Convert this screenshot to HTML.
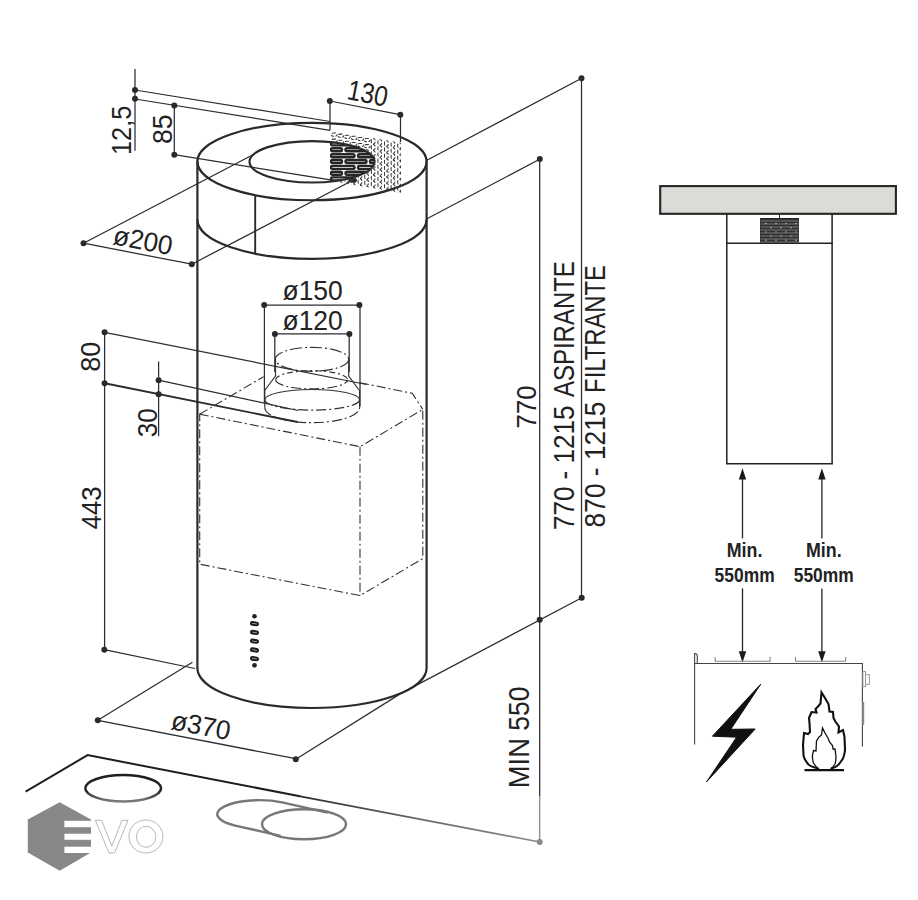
<!DOCTYPE html>
<html><head><meta charset="utf-8">
<style>
html,body{margin:0;padding:0;background:#fff;width:918px;height:900px;overflow:hidden}
svg{display:block}
text{font-family:"Liberation Sans",sans-serif;fill:#222}
</style></head>
<body>
<svg width="918" height="900" viewBox="0 0 918 900">
<g id="thin" stroke="#2b2d33" stroke-width="1.25" fill="none">
  <!-- 12,5 dim -->
  <line x1="135" y1="69" x2="135" y2="150.7"/>
  <line x1="135" y1="90" x2="330" y2="121.5"/>
  <line x1="135" y1="99" x2="330" y2="130.3"/>
  <!-- 85 dim -->
  <line x1="174.3" y1="105.5" x2="174.3" y2="154.7"/>
  <line x1="174.3" y1="154.7" x2="332" y2="180.1"/>
  <!-- 130 dim -->
  <line x1="329.8" y1="101" x2="400" y2="114.7"/>
  <line x1="330" y1="101" x2="330" y2="130.3"/>
  <line x1="400.5" y1="114.7" x2="400.5" y2="142"/>
  <!-- ø200 -->
  <line x1="83.5" y1="243.2" x2="191.8" y2="264.2"/>
  <line x1="83.5" y1="243.2" x2="252" y2="155.3"/>
  <line x1="191.8" y1="264.2" x2="352.9" y2="180.2"/>
  <!-- right top dims -->
  <line x1="426" y1="160.7" x2="581.7" y2="78.3"/>
  <line x1="426" y1="219.3" x2="540" y2="159"/>
  <line x1="581.5" y1="78.3" x2="581.5" y2="597.9"/>
  <line x1="539.7" y1="159" x2="539.7" y2="796"/>
  <line x1="539.7" y1="796" x2="539.7" y2="842" stroke="#888"/>
  <polyline points="295.8,759.2 401,693.4 581.8,597.7"/>
  <!-- ø150 / ø120 -->
  <line x1="264.4" y1="305" x2="359.8" y2="305"/>
  <line x1="264.4" y1="305" x2="264.4" y2="404"/>
  <line x1="360" y1="305" x2="360" y2="406.4"/>
  <line x1="274.8" y1="333.9" x2="349.4" y2="333.9"/>
  <line x1="274.8" y1="333.9" x2="274.8" y2="372"/>
  <line x1="349.2" y1="333.9" x2="349.2" y2="372"/>
  <!-- 80 / 443 dims -->
  <line x1="104.6" y1="332.3" x2="104.6" y2="650"/>
  <line x1="104.6" y1="332.3" x2="366.5" y2="384.5"/>
  <line x1="104.6" y1="383.2" x2="297.6" y2="422" stroke-width="1.9"/>
  <line x1="104.3" y1="649.7" x2="195" y2="668.5"/>
  <!-- 30 dim -->
  <line x1="158.6" y1="361.5" x2="158.6" y2="436.2"/>
  <line x1="158.6" y1="380.2" x2="298" y2="410.5"/>
  <!-- ø370 -->
  <line x1="97.8" y1="720.3" x2="295.7" y2="758.7"/>
  <line x1="97.8" y1="720.3" x2="192.4" y2="662.2"/>
</g>
<g fill="#2a2a2a">
  <circle cx="135" cy="90" r="3.0"/><circle cx="135" cy="98.8" r="3.0"/>
  <circle cx="174.3" cy="105.5" r="3.0"/><circle cx="174.3" cy="154.7" r="3.0"/>
  <circle cx="329.8" cy="101" r="3.0"/><circle cx="400.3" cy="114.7" r="3.0"/>
  <circle cx="83.5" cy="243.2" r="3.0"/><circle cx="191.8" cy="264.2" r="3.0"/>
  <circle cx="581.5" cy="78.3" r="3.0"/><circle cx="539.8" cy="159" r="3.0"/>
  <circle cx="581.7" cy="597.7" r="3.0"/><circle cx="539.7" cy="619.8" r="3.0"/>
  <circle cx="295.8" cy="759.2" r="3.0"/><circle cx="97.8" cy="720.3" r="3.0"/>
  <circle cx="264.2" cy="305" r="3.0"/><circle cx="359.4" cy="305" r="3.0"/>
  <circle cx="274.9" cy="333.9" r="3.0"/><circle cx="349.4" cy="333.9" r="3.0"/>
  <circle cx="104.6" cy="332.3" r="3.0"/><circle cx="104.6" cy="383.2" r="3.0"/>
  <circle cx="104.3" cy="649.7" r="3.0"/>
  <circle cx="158.6" cy="380.2" r="3.0"/><circle cx="158.6" cy="394.2" r="3.0"/>
  <ellipse cx="352.9" cy="180.2" rx="4" ry="2.6"/>
  <circle cx="539.7" cy="842" r="3.0" fill="#888"/>
</g>
<!-- hood body -->
<g stroke="#2a2a2a" stroke-width="2.2" fill="none">
  <ellipse cx="312" cy="161.55" rx="114.6" ry="38.7"/>
  <ellipse cx="312" cy="161.8" rx="62.5" ry="20.7"/>
  <line x1="197.4" y1="161.3" x2="197.4" y2="668"/>
  <line x1="426.6" y1="161.3" x2="426.6" y2="668"/>
  <path d="M197.4 219.5 A114.6 39.3 0 0 0 426.6 219.5"/>
  <path d="M197.4 668 A114.6 40 0 0 0 426.6 668"/>
  <line x1="255.2" y1="195.6" x2="255.2" y2="253.3" stroke-width="1.9"/>
</g>
<!-- grille -->
<defs>
  <clipPath id="holeclip"><ellipse cx="312" cy="161.8" rx="62.5" ry="20.7"/></clipPath>
  <clipPath id="gclip"><polygon points="330,130 401,142 401,193 330,181"/></clipPath>
  <mask id="ringmask"><rect x="0" y="0" width="918" height="900" fill="#fff"/><ellipse cx="312" cy="161.8" rx="62.5" ry="20.7" fill="#000"/></mask>
</defs>
<g clip-path="url(#gclip)">
  <g clip-path="url(#holeclip)" stroke="#262626" stroke-width="2.4" fill="none">
    <rect x="331" y="142.4" width="23.5" height="3.0" rx="1.5"/>
    <rect x="358" y="142.4" width="16" height="3.0" rx="1.5"/>
    <rect x="331" y="148.3" width="11" height="3.0" rx="1.5"/>
    <rect x="345.5" y="148.3" width="21" height="3.0" rx="1.5"/>
    <rect x="370" y="148.3" width="12" height="3.0" rx="1.5"/>
    <rect x="331" y="154.2" width="23.5" height="3.0" rx="1.5"/>
    <rect x="358" y="154.2" width="16" height="3.0" rx="1.5"/>
    <rect x="331" y="160.0" width="11" height="3.0" rx="1.5"/>
    <rect x="345.5" y="160.0" width="21" height="3.0" rx="1.5"/>
    <rect x="370" y="160.0" width="12" height="3.0" rx="1.5"/>
    <rect x="331" y="165.9" width="23.5" height="3.0" rx="1.5"/>
    <rect x="358" y="165.9" width="16" height="3.0" rx="1.5"/>
    <rect x="331" y="171.8" width="11" height="3.0" rx="1.5"/>
    <rect x="345.5" y="171.8" width="21" height="3.0" rx="1.5"/>
    <rect x="370" y="171.8" width="12" height="3.0" rx="1.5"/>
    <rect x="331" y="177.4" width="23.5" height="3.0" rx="1.5"/>
    <rect x="358" y="177.4" width="16" height="3.0" rx="1.5"/>
  </g>
  <g mask="url(#ringmask)" stroke="#383838" stroke-width="1.05" fill="none" stroke-dasharray="2.8 1.5">
    <path d="M333.0 133.0h2.5a1.6 1.6 0 0 1 0 3.2h-2.5a1.6 1.6 0 0 1 0-3.2z M339.6 134.1h2.5a1.6 1.6 0 0 1 0 3.2h-2.5a1.6 1.6 0 0 1 0-3.2z M346.2 135.2h2.5a1.6 1.6 0 0 1 0 3.2h-2.5a1.6 1.6 0 0 1 0-3.2z M352.8 136.3h2.5a1.6 1.6 0 0 1 0 3.2h-2.5a1.6 1.6 0 0 1 0-3.2z M359.4 137.4h2.5a1.6 1.6 0 0 1 0 3.2h-2.5a1.6 1.6 0 0 1 0-3.2z M366.0 138.5h2.5a1.6 1.6 0 0 1 0 3.2h-2.5a1.6 1.6 0 0 1 0-3.2z M371.3 140.4v1.6a1.9 1.9 0 0 0 3.8 0v-1.6a1.9 1.9 0 0 0-3.8 0z M377.9 141.5v1.6a1.9 1.9 0 0 0 3.8 0v-1.6a1.9 1.9 0 0 0-3.8 0z M384.5 142.6v1.6a1.9 1.9 0 0 0 3.8 0v-1.6a1.9 1.9 0 0 0-3.8 0z M391.1 143.7v1.6a1.9 1.9 0 0 0 3.8 0v-1.6a1.9 1.9 0 0 0-3.8 0z M397.7 144.8v1.6a1.9 1.9 0 0 0 3.8 0v-1.6a1.9 1.9 0 0 0-3.8 0z M333.0 139.1h2.5a1.6 1.6 0 0 1 0 3.2h-2.5a1.6 1.6 0 0 1 0-3.2z M339.6 140.2h2.5a1.6 1.6 0 0 1 0 3.2h-2.5a1.6 1.6 0 0 1 0-3.2z M346.2 141.3h2.5a1.6 1.6 0 0 1 0 3.2h-2.5a1.6 1.6 0 0 1 0-3.2z M352.8 142.4h2.5a1.6 1.6 0 0 1 0 3.2h-2.5a1.6 1.6 0 0 1 0-3.2z M359.4 143.5h2.5a1.6 1.6 0 0 1 0 3.2h-2.5a1.6 1.6 0 0 1 0-3.2z M366.0 144.6h2.5a1.6 1.6 0 0 1 0 3.2h-2.5a1.6 1.6 0 0 1 0-3.2z M371.3 146.5v1.6a1.9 1.9 0 0 0 3.8 0v-1.6a1.9 1.9 0 0 0-3.8 0z M377.9 147.6v1.6a1.9 1.9 0 0 0 3.8 0v-1.6a1.9 1.9 0 0 0-3.8 0z M384.5 148.7v1.6a1.9 1.9 0 0 0 3.8 0v-1.6a1.9 1.9 0 0 0-3.8 0z M391.1 149.8v1.6a1.9 1.9 0 0 0 3.8 0v-1.6a1.9 1.9 0 0 0-3.8 0z M397.7 150.9v1.6a1.9 1.9 0 0 0 3.8 0v-1.6a1.9 1.9 0 0 0-3.8 0z M331.7 146.0v1.6a1.9 1.9 0 0 0 3.8 0v-1.6a1.9 1.9 0 0 0-3.8 0z M338.3 147.1v1.6a1.9 1.9 0 0 0 3.8 0v-1.6a1.9 1.9 0 0 0-3.8 0z M344.9 148.2v1.6a1.9 1.9 0 0 0 3.8 0v-1.6a1.9 1.9 0 0 0-3.8 0z M351.5 149.3v1.6a1.9 1.9 0 0 0 3.8 0v-1.6a1.9 1.9 0 0 0-3.8 0z M358.1 150.4v1.6a1.9 1.9 0 0 0 3.8 0v-1.6a1.9 1.9 0 0 0-3.8 0z M364.7 151.5v1.6a1.9 1.9 0 0 0 3.8 0v-1.6a1.9 1.9 0 0 0-3.8 0z M371.3 152.6v1.6a1.9 1.9 0 0 0 3.8 0v-1.6a1.9 1.9 0 0 0-3.8 0z M377.9 153.7v1.6a1.9 1.9 0 0 0 3.8 0v-1.6a1.9 1.9 0 0 0-3.8 0z M384.5 154.8v1.6a1.9 1.9 0 0 0 3.8 0v-1.6a1.9 1.9 0 0 0-3.8 0z M391.1 155.9v1.6a1.9 1.9 0 0 0 3.8 0v-1.6a1.9 1.9 0 0 0-3.8 0z M397.7 157.0v1.6a1.9 1.9 0 0 0 3.8 0v-1.6a1.9 1.9 0 0 0-3.8 0z M331.7 152.1v1.6a1.9 1.9 0 0 0 3.8 0v-1.6a1.9 1.9 0 0 0-3.8 0z M338.3 153.2v1.6a1.9 1.9 0 0 0 3.8 0v-1.6a1.9 1.9 0 0 0-3.8 0z M344.9 154.3v1.6a1.9 1.9 0 0 0 3.8 0v-1.6a1.9 1.9 0 0 0-3.8 0z M351.5 155.4v1.6a1.9 1.9 0 0 0 3.8 0v-1.6a1.9 1.9 0 0 0-3.8 0z M358.1 156.5v1.6a1.9 1.9 0 0 0 3.8 0v-1.6a1.9 1.9 0 0 0-3.8 0z M364.7 157.6v1.6a1.9 1.9 0 0 0 3.8 0v-1.6a1.9 1.9 0 0 0-3.8 0z M371.3 158.7v1.6a1.9 1.9 0 0 0 3.8 0v-1.6a1.9 1.9 0 0 0-3.8 0z M377.9 159.8v1.6a1.9 1.9 0 0 0 3.8 0v-1.6a1.9 1.9 0 0 0-3.8 0z M384.5 160.9v1.6a1.9 1.9 0 0 0 3.8 0v-1.6a1.9 1.9 0 0 0-3.8 0z M391.1 162.0v1.6a1.9 1.9 0 0 0 3.8 0v-1.6a1.9 1.9 0 0 0-3.8 0z M397.7 163.1v1.6a1.9 1.9 0 0 0 3.8 0v-1.6a1.9 1.9 0 0 0-3.8 0z M331.7 158.2v1.6a1.9 1.9 0 0 0 3.8 0v-1.6a1.9 1.9 0 0 0-3.8 0z M338.3 159.3v1.6a1.9 1.9 0 0 0 3.8 0v-1.6a1.9 1.9 0 0 0-3.8 0z M344.9 160.4v1.6a1.9 1.9 0 0 0 3.8 0v-1.6a1.9 1.9 0 0 0-3.8 0z M351.5 161.5v1.6a1.9 1.9 0 0 0 3.8 0v-1.6a1.9 1.9 0 0 0-3.8 0z M358.1 162.6v1.6a1.9 1.9 0 0 0 3.8 0v-1.6a1.9 1.9 0 0 0-3.8 0z M364.7 163.7v1.6a1.9 1.9 0 0 0 3.8 0v-1.6a1.9 1.9 0 0 0-3.8 0z M371.3 164.8v1.6a1.9 1.9 0 0 0 3.8 0v-1.6a1.9 1.9 0 0 0-3.8 0z M377.9 165.9v1.6a1.9 1.9 0 0 0 3.8 0v-1.6a1.9 1.9 0 0 0-3.8 0z M384.5 167.0v1.6a1.9 1.9 0 0 0 3.8 0v-1.6a1.9 1.9 0 0 0-3.8 0z M391.1 168.1v1.6a1.9 1.9 0 0 0 3.8 0v-1.6a1.9 1.9 0 0 0-3.8 0z M397.7 169.2v1.6a1.9 1.9 0 0 0 3.8 0v-1.6a1.9 1.9 0 0 0-3.8 0z M331.7 164.3v1.6a1.9 1.9 0 0 0 3.8 0v-1.6a1.9 1.9 0 0 0-3.8 0z M338.3 165.4v1.6a1.9 1.9 0 0 0 3.8 0v-1.6a1.9 1.9 0 0 0-3.8 0z M344.9 166.5v1.6a1.9 1.9 0 0 0 3.8 0v-1.6a1.9 1.9 0 0 0-3.8 0z M351.5 167.6v1.6a1.9 1.9 0 0 0 3.8 0v-1.6a1.9 1.9 0 0 0-3.8 0z M358.1 168.7v1.6a1.9 1.9 0 0 0 3.8 0v-1.6a1.9 1.9 0 0 0-3.8 0z M364.7 169.8v1.6a1.9 1.9 0 0 0 3.8 0v-1.6a1.9 1.9 0 0 0-3.8 0z M371.3 170.9v1.6a1.9 1.9 0 0 0 3.8 0v-1.6a1.9 1.9 0 0 0-3.8 0z M377.9 172.0v1.6a1.9 1.9 0 0 0 3.8 0v-1.6a1.9 1.9 0 0 0-3.8 0z M384.5 173.1v1.6a1.9 1.9 0 0 0 3.8 0v-1.6a1.9 1.9 0 0 0-3.8 0z M391.1 174.2v1.6a1.9 1.9 0 0 0 3.8 0v-1.6a1.9 1.9 0 0 0-3.8 0z M397.7 175.3v1.6a1.9 1.9 0 0 0 3.8 0v-1.6a1.9 1.9 0 0 0-3.8 0z M331.7 170.4v1.6a1.9 1.9 0 0 0 3.8 0v-1.6a1.9 1.9 0 0 0-3.8 0z M338.3 171.5v1.6a1.9 1.9 0 0 0 3.8 0v-1.6a1.9 1.9 0 0 0-3.8 0z M344.9 172.6v1.6a1.9 1.9 0 0 0 3.8 0v-1.6a1.9 1.9 0 0 0-3.8 0z M351.5 173.7v1.6a1.9 1.9 0 0 0 3.8 0v-1.6a1.9 1.9 0 0 0-3.8 0z M358.1 174.8v1.6a1.9 1.9 0 0 0 3.8 0v-1.6a1.9 1.9 0 0 0-3.8 0z M364.7 175.9v1.6a1.9 1.9 0 0 0 3.8 0v-1.6a1.9 1.9 0 0 0-3.8 0z M371.3 177.0v1.6a1.9 1.9 0 0 0 3.8 0v-1.6a1.9 1.9 0 0 0-3.8 0z M377.9 178.1v1.6a1.9 1.9 0 0 0 3.8 0v-1.6a1.9 1.9 0 0 0-3.8 0z M384.5 179.2v1.6a1.9 1.9 0 0 0 3.8 0v-1.6a1.9 1.9 0 0 0-3.8 0z M391.1 180.3v1.6a1.9 1.9 0 0 0 3.8 0v-1.6a1.9 1.9 0 0 0-3.8 0z M397.7 181.4v1.6a1.9 1.9 0 0 0 3.8 0v-1.6a1.9 1.9 0 0 0-3.8 0z M331.7 176.5v1.6a1.9 1.9 0 0 0 3.8 0v-1.6a1.9 1.9 0 0 0-3.8 0z M338.3 177.6v1.6a1.9 1.9 0 0 0 3.8 0v-1.6a1.9 1.9 0 0 0-3.8 0z M344.9 178.7v1.6a1.9 1.9 0 0 0 3.8 0v-1.6a1.9 1.9 0 0 0-3.8 0z M351.5 179.8v1.6a1.9 1.9 0 0 0 3.8 0v-1.6a1.9 1.9 0 0 0-3.8 0z M358.1 180.9v1.6a1.9 1.9 0 0 0 3.8 0v-1.6a1.9 1.9 0 0 0-3.8 0z M364.7 182.0v1.6a1.9 1.9 0 0 0 3.8 0v-1.6a1.9 1.9 0 0 0-3.8 0z M371.3 183.1v1.6a1.9 1.9 0 0 0 3.8 0v-1.6a1.9 1.9 0 0 0-3.8 0z M377.9 184.2v1.6a1.9 1.9 0 0 0 3.8 0v-1.6a1.9 1.9 0 0 0-3.8 0z M384.5 185.3v1.6a1.9 1.9 0 0 0 3.8 0v-1.6a1.9 1.9 0 0 0-3.8 0z M391.1 186.4v1.6a1.9 1.9 0 0 0 3.8 0v-1.6a1.9 1.9 0 0 0-3.8 0z M397.7 187.5v1.6a1.9 1.9 0 0 0 3.8 0v-1.6a1.9 1.9 0 0 0-3.8 0z M331.7 182.6v1.6a1.9 1.9 0 0 0 3.8 0v-1.6a1.9 1.9 0 0 0-3.8 0z M338.3 183.7v1.6a1.9 1.9 0 0 0 3.8 0v-1.6a1.9 1.9 0 0 0-3.8 0z M344.9 184.8v1.6a1.9 1.9 0 0 0 3.8 0v-1.6a1.9 1.9 0 0 0-3.8 0z M351.5 185.9v1.6a1.9 1.9 0 0 0 3.8 0v-1.6a1.9 1.9 0 0 0-3.8 0z M358.1 187.0v1.6a1.9 1.9 0 0 0 3.8 0v-1.6a1.9 1.9 0 0 0-3.8 0z M364.7 188.1v1.6a1.9 1.9 0 0 0 3.8 0v-1.6a1.9 1.9 0 0 0-3.8 0z M371.3 189.2v1.6a1.9 1.9 0 0 0 3.8 0v-1.6a1.9 1.9 0 0 0-3.8 0z M377.9 190.3v1.6a1.9 1.9 0 0 0 3.8 0v-1.6a1.9 1.9 0 0 0-3.8 0z M384.5 191.4v1.6a1.9 1.9 0 0 0 3.8 0v-1.6a1.9 1.9 0 0 0-3.8 0z M391.1 192.5v1.6a1.9 1.9 0 0 0 3.8 0v-1.6a1.9 1.9 0 0 0-3.8 0z M397.7 193.6v1.6a1.9 1.9 0 0 0 3.8 0v-1.6a1.9 1.9 0 0 0-3.8 0z M331.7 188.7v1.6a1.9 1.9 0 0 0 3.8 0v-1.6a1.9 1.9 0 0 0-3.8 0z M338.3 189.8v1.6a1.9 1.9 0 0 0 3.8 0v-1.6a1.9 1.9 0 0 0-3.8 0z M344.9 190.9v1.6a1.9 1.9 0 0 0 3.8 0v-1.6a1.9 1.9 0 0 0-3.8 0z M351.5 192.0v1.6a1.9 1.9 0 0 0 3.8 0v-1.6a1.9 1.9 0 0 0-3.8 0z M358.1 193.1v1.6a1.9 1.9 0 0 0 3.8 0v-1.6a1.9 1.9 0 0 0-3.8 0z M364.7 194.2v1.6a1.9 1.9 0 0 0 3.8 0v-1.6a1.9 1.9 0 0 0-3.8 0z M371.3 195.3v1.6a1.9 1.9 0 0 0 3.8 0v-1.6a1.9 1.9 0 0 0-3.8 0z M377.9 196.4v1.6a1.9 1.9 0 0 0 3.8 0v-1.6a1.9 1.9 0 0 0-3.8 0z M384.5 197.5v1.6a1.9 1.9 0 0 0 3.8 0v-1.6a1.9 1.9 0 0 0-3.8 0z M391.1 198.6v1.6a1.9 1.9 0 0 0 3.8 0v-1.6a1.9 1.9 0 0 0-3.8 0z M397.7 199.7v1.6a1.9 1.9 0 0 0 3.8 0v-1.6a1.9 1.9 0 0 0-3.8 0z"/>
  </g>
</g>
<!-- filter box dash-dot -->
<g stroke="#333" stroke-width="1.1" fill="none" stroke-dasharray="9 3 2 3">
  <path d="M199.7 414.2 L360 446.7 L422.8 409.4 L422.8 558.6 L360 595.6 L199.7 564.2 Z"/>
  <line x1="360" y1="446.7" x2="360" y2="595.6"/>
  <path d="M199.7 414.2 L263.6 376.7 M360 382.7 L412.2 393.3 L422.8 409.4"/>
</g>
<!-- duct -->
<g stroke="#333" stroke-width="1.2" fill="none">
  <ellipse cx="312" cy="359.3" rx="36.7" ry="12" stroke-dasharray="12 3 2 3"/>
  <path d="M275.7 379.8 A36 9.1 0 0 0 347.7 379.8" stroke-dasharray="10 3 2 3"/>
  <path d="M275.7 379.8 A36 9.1 0 0 1 347.7 379.8" stroke-dasharray="6 3 2 3"/>
  <path d="M275.5 359.3 V376 L265 390 M348.7 359.3 V376 L359 390"/>
  <path d="M264.8 399.8 A47.4 10.3 0 0 1 359.6 399.8"/>
  <path d="M264.8 399.8 A47.4 10.3 0 0 0 359.6 399.8" stroke-dasharray="10 3 2 3"/>
  <path d="M264.8 407.7 A47.4 15 0 0 0 359.6 407.7" stroke-dasharray="10 3 2 3"/>
  <path d="M264.8 390 V407.7 M359.6 390 V407.7"/>
</g>
<!-- LEDs -->
<g fill="#222">
  <circle cx="254.5" cy="616.3" r="2.3"/>
  <circle cx="254.5" cy="665.3" r="2.4"/>
</g>
<g stroke="#1e1e1e" stroke-width="2.1" fill="none">
  <rect x="251" y="622.4" width="7" height="2.6" rx="1.3" transform="rotate(8 254.5 623.7)"/>
  <rect x="251" y="631.1" width="7" height="2.6" rx="1.3" transform="rotate(8 254.5 632.4)"/>
  <rect x="251" y="639.9" width="7" height="2.6" rx="1.3" transform="rotate(8 254.5 641.2)"/>
  <rect x="251" y="648.7" width="7" height="2.6" rx="1.3" transform="rotate(8 254.5 650)"/>
  <rect x="251" y="657.4" width="7" height="2.6" rx="1.3" transform="rotate(8 254.5 658.7)"/>
</g>
<!-- hob -->
<g fill="none">
  <defs><linearGradient id="hobg" gradientUnits="userSpaceOnUse" x1="87.6" y1="0" x2="539.7" y2="0"><stop offset="0" stop-color="#1e1e1e"/><stop offset="0.45" stop-color="#2a2a2a"/><stop offset="0.75" stop-color="#6a6a6a"/><stop offset="1" stop-color="#8a8a8a"/></linearGradient></defs>
  <polyline points="25.6,791.7 87.6,755.1 300,796.3" stroke="#1e1e1e" stroke-width="2"/>
  <path d="M299 796.1 L539.7 842" stroke="url(#hobg)" stroke-width="1.7"/>
  <defs><linearGradient id="ell1g" gradientUnits="userSpaceOnUse" x1="0" y1="775" x2="0" y2="802"><stop offset="0" stop-color="#1e1e1e"/><stop offset="0.6" stop-color="#252525"/><stop offset="1" stop-color="#808080"/></linearGradient></defs>
  <ellipse cx="123.2" cy="788.3" rx="37.9" ry="13.2" stroke="url(#ell1g)" stroke-width="2.5"/>
  
  <ellipse cx="304" cy="824.2" rx="42" ry="15" stroke="#777" stroke-width="2.4"/>
  <path d="M327.5 812.6 L282.1 802.4 A42 14 0 0 0 235.1 825.6 L280.5 835.8" stroke="#777" stroke-width="2.4"/>
</g>
<!-- texts main -->
<g font-size="28">
  <text transform="translate(131.1,155) rotate(-90) scale(0.904,1)">12,5</text>
  <text transform="translate(171.5,144) rotate(-90) scale(0.95,1)">85</text>
  <text transform="translate(100.2,371.8) rotate(-90) scale(0.966,1)">80</text>
  <text transform="translate(156.7,437.2) rotate(-90) scale(0.93,1)">30</text>
  <text transform="translate(100.7,529.3) rotate(-90) scale(0.92,1)">443</text>
  <text transform="translate(535.5,428.4) rotate(-90) scale(0.92,1)">770</text>
  <text font-size="29" transform="translate(529.3,788.3) rotate(-90) scale(0.945,1)">MIN</text>
  <text font-size="29" transform="translate(529.3,730.8) rotate(-90) scale(0.913,1)">550</text>
  <text font-size="30" transform="translate(574.2,530.1) rotate(-90) scale(0.869,1)">770 - 1215</text>
  <text font-size="30" transform="translate(574.2,397) rotate(-90) scale(0.799,1)">ASPIRANTE</text>
  <text font-size="30" transform="translate(604.9,527.4) rotate(-90) scale(0.878,1)">870 - 1215</text>
  <text font-size="30" transform="translate(604.9,392.9) rotate(-90) scale(0.793,1)">FILTRANTE</text>
</g>
<g font-size="27">
  <text font-size="28.5" transform="translate(346,99) rotate(11) scale(0.85,1)">130</text>
  <text transform="translate(112,244) rotate(11) scale(0.97,1)">ø200</text>
  <text transform="translate(170,729) rotate(11) scale(0.97,1)">ø370</text>
  <text transform="translate(282.5,299.5) scale(0.98,1)">ø150</text>
  <text transform="translate(282.5,329.5) scale(0.98,1)">ø120</text>
</g>
<!-- EVO logo -->
<g>
  <polygon points="59.7,802.3 91,819.4 91,852.5 59.7,870.8 27.8,852.5 27.8,819.4" fill="#888"/>
  <rect x="64.4" y="820.8" width="27" height="6.4" fill="#fff"/>
  <rect x="64.4" y="833.7" width="27" height="6.1" fill="#fff"/>
  <rect x="64.4" y="846.7" width="27" height="6.3" fill="#fff"/>
  <path d="M95.3 820.3 L101.5 820.3 L111.8 846 L122 820.3 L128 820.3 L114.5 853 L109 853 Z" fill="none" stroke="#999" stroke-width="0.7"/>
  <ellipse cx="145.9" cy="836.5" rx="17" ry="16.5" fill="none" stroke="#999" stroke-width="0.7"/>
  <ellipse cx="146.1" cy="836.8" rx="9.7" ry="10.5" fill="none" stroke="#999" stroke-width="0.7"/>
</g>
<!-- right diagram -->
<g stroke="#222" fill="none">
  <rect x="660.2" y="186.1" width="235.7" height="27.7" fill="#dddbd7" stroke-width="2.1" stroke="#252525"/>
  <line x1="726.8" y1="214" x2="726.8" y2="463.8" stroke-width="1.5"/>
  <line x1="832.1" y1="214" x2="832.1" y2="463.8" stroke-width="1.5"/>
  <line x1="726" y1="243.3" x2="833" y2="243.3" stroke-width="1.4"/>
  <line x1="726" y1="463.8" x2="833" y2="463.8" stroke-width="1.6"/>
  <line x1="779.5" y1="214" x2="779.5" y2="219" stroke-width="1"/>
</g>
<g fill="#303030">
  <rect x="760" y="218" width="39" height="25"/>
</g>
<g stroke="#8a8a8a" stroke-width="0.8"><line x1="760.5" y1="221.0" x2="798.5" y2="221.0"/><line x1="760.5" y1="224.0" x2="798.5" y2="224.0"/><line x1="760.5" y1="227.0" x2="798.5" y2="227.0"/><line x1="760.5" y1="230.0" x2="798.5" y2="230.0"/><line x1="760.5" y1="233.0" x2="798.5" y2="233.0"/><line x1="760.5" y1="236.0" x2="798.5" y2="236.0"/><line x1="760.5" y1="239.0" x2="798.5" y2="239.0"/><line x1="760.5" y1="242.0" x2="798.5" y2="242.0"/></g><g fill="#ccc"><circle cx="766" cy="223.5" r="0.7"/><circle cx="776" cy="223.5" r="0.7"/><circle cx="786" cy="223.5" r="0.7"/><circle cx="796" cy="223.5" r="0.7"/><circle cx="771" cy="227.7" r="0.7"/><circle cx="781" cy="227.7" r="0.7"/><circle cx="791" cy="227.7" r="0.7"/><circle cx="766" cy="231.9" r="0.7"/><circle cx="776" cy="231.9" r="0.7"/><circle cx="786" cy="231.9" r="0.7"/><circle cx="796" cy="231.9" r="0.7"/><circle cx="771" cy="236.1" r="0.7"/><circle cx="781" cy="236.1" r="0.7"/><circle cx="791" cy="236.1" r="0.7"/><circle cx="766" cy="240.3" r="0.7"/><circle cx="776" cy="240.3" r="0.7"/><circle cx="786" cy="240.3" r="0.7"/><circle cx="796" cy="240.3" r="0.7"/></g>
<g fill="#222">
  <rect x="760" y="218" width="39" height="0.8"/>
</g>
<g stroke="#222" stroke-width="1.3">
  <line x1="742.5" y1="475" x2="742.5" y2="538.4"/>
  <line x1="742.5" y1="588.4" x2="742.5" y2="655"/>
  <line x1="821.9" y1="475" x2="821.9" y2="538.4"/>
  <line x1="821.9" y1="588.4" x2="821.9" y2="655"/>
</g>
<g fill="#1a1a1a">
  <polygon points="742.5,468.3 738.8,479.5 746.2,479.5"/>
  <polygon points="742.5,662.5 738.8,651.3 746.2,651.3"/>
  <polygon points="821.9,468.3 818.2,479.5 825.6,479.5"/>
  <polygon points="821.9,662.5 818.2,651.3 825.6,651.3"/>
</g>
<g font-size="20.5" font-weight="bold" text-anchor="middle">
  <text transform="translate(744.6,556.5) scale(0.87,1)">Min.</text>
  <text transform="translate(744.6,581.8) scale(0.85,1)">550mm</text>
  <text transform="translate(823.8,556.5) scale(0.87,1)">Min.</text>
  <text transform="translate(823.7,581.8) scale(0.85,1)">550mm</text>
</g>
<g stroke="#444" fill="none" stroke-width="1.1">
  <path d="M694.6 744.5 V653.5 Q697.3 653.5 697.3 656 V663.5 M694.6 663.5 H862.4 V746.6"/>
  <path d="M715.2 657 V661.3 H770.1 V657 M795.5 657 V661.3 H845.6 V657" stroke="#888"/>
</g>
<g fill="none" stroke="#999" stroke-width="1">
  <rect x="865.5" y="674.7" width="3.9" height="9.6"/>
  <rect x="862.9" y="671.5" width="2.6" height="14.9"/>
</g>
<line x1="863.2" y1="702" x2="863.2" y2="725" stroke="#888" stroke-width="2"/>
<polygon points="760.8,684.1 712.4,736.2 736.6,737.2 706.6,781.8 755.2,729 730.8,729.3" fill="#111" stroke="#111" stroke-width="1" stroke-linejoin="round"/>
<line x1="804.5" y1="770.2" x2="844" y2="770.2" stroke="#111" stroke-width="2.2"/>
<path d="M818 768.5 C812 767 809 765.5 808 764 C805 760 803.5 757 803.5 755 L803 745 L804 733 L808 734 L810 732 L809.5 723 L809 718 L811.5 712 L816.5 712.5 L815.5 709 L818 706.5 L820.5 703.5 L821.5 692.5 L825 698 L828.5 704 L829.5 711.5 L833 712 L833.5 718 L835 721 L839 726.5 L838.5 732.5 L843 730 L844.5 737 L845 750 C844.5 755 843.5 758 842 760 C840 763 838.5 765 837 766 C835 767.5 833 768 831 768.5" fill="none" stroke="#111" stroke-width="2.1" stroke-linejoin="miter"/>
<path d="M819 769 C816 767 814.5 765 813.5 763 C812.5 760 812.3 757 812.5 755 L813.5 750.5 L816 751 L816.5 741 L819 737 L821.5 735 L822.5 728 L825 733 L828 738 L829.5 742 L832.5 745.5 L833 749 L835 749 L836 757 C836 760 835.7 762 835 764 C833.5 766.5 832 768 830.5 769" fill="none" stroke="#111" stroke-width="1.3"/>
</svg>
</body></html>
